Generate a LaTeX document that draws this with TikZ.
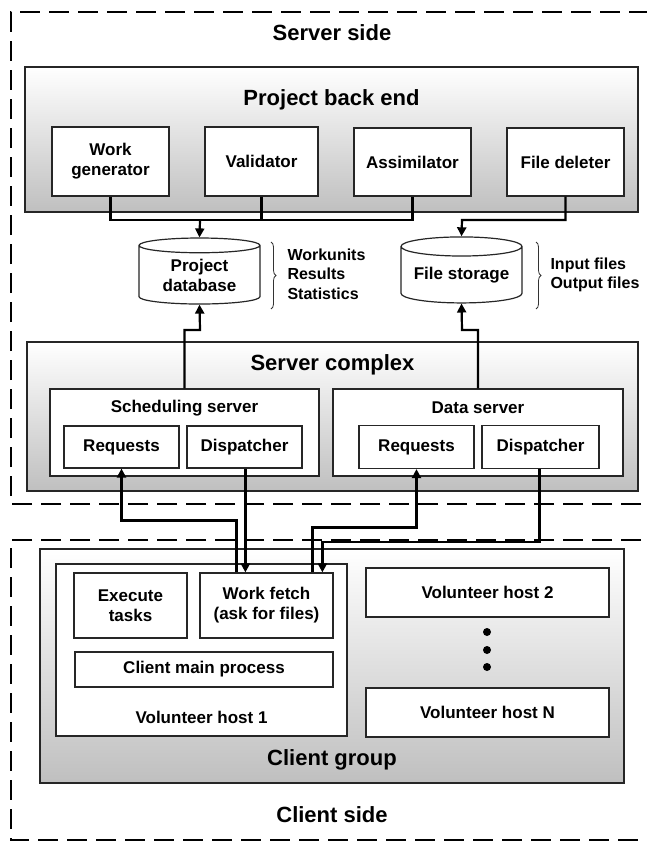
\documentclass[tikz,border=0pt]{standalone}
\usepackage{fontspec}
\setmainfont{Liberation Sans}
\usetikzlibrary{shapes.geometric,arrows.meta,decorations.pathreplacing,calc}
\begin{document}
\begin{tikzpicture}[x=1pt,y=-1pt,
  every node/.style={font=\bfseries},
  box/.style={draw=black!85, line width=1.2pt, fill=white, inner sep=0pt, align=center, font=\bfseries\fontsize{17}{20}\selectfont},
  group/.style={draw=black!85, line width=1.2pt, inner sep=0pt, top color=white, bottom color=black!25},
  title/.style={font=\bfseries\fontsize{22}{26}\selectfont},
  sub/.style={font=\bfseries\fontsize{17}{20}\selectfont},
  db/.style={draw=black!85, line width=1.2pt, fill=white, cylinder, shape border rotate=90, aspect=0.2, inner sep=0pt, align=center, font=\bfseries\fontsize{17}{20}\selectfont},
  conn/.style={line width=2.2pt},
  arr/.style={line width=2.2pt, -{Triangle[length=9pt,width=9pt]}},
  side/.style={dash pattern=on 20pt off 9pt, line width=1.6pt},
  brc/.style={decorate, decoration={brace, amplitude=5pt}, line width=0.8pt, black!80},
  note/.style={font=\bfseries\fontsize{16}{19.5}\selectfont, align=left, anchor=west}
]
\useasboundingbox (0,0) rectangle (646,842);
\fill[white] (0,0) rectangle (646,842);

% dashed regions
\draw[side] (670,504) -- (11,504) -- (11,12) -- (670,12);
\draw[side] (670,540) -- (11,540) -- (11,840) -- (670,840);
\node[title] (sst) at (332,33) {Server side};
\node[title] (cst) at (332,815) {Client side};

% project back end
\node[group, minimum width=613pt, minimum height=145pt] (pbe) at (331.5,139.5) {};
\node[title] (pbet) at (331.5,100) {Project back end};
\node[box, minimum width=117pt, minimum height=69pt] (wg) at (110.5,161.5) {Work\\generator};
\node[box, minimum width=113pt, minimum height=69pt] (val) at (261.5,161.5) {Validator};
\node[box, minimum width=117pt, minimum height=68pt] (asm) at (412.5,162) {Assimilator};
\node[box, minimum width=117pt, minimum height=68pt] (fd) at (565.5,162) {File deleter};

% storage
\node[db, minimum width=121pt, minimum height=66pt] (pdb) at (199.5,275) {Project\\database};
\node[db, minimum width=121pt, minimum height=66pt] (fs) at (461.5,275) {File storage};
\draw[brc] (271,242) -- (271,309);
\draw[brc] (536,242) -- (536,309);
\node[note] (pdbn) at (284,274) {Workunits\\Results\\Statistics};
\node[note] (fsn) at (547,275) {Input files\\Output files};

% server complex
\node[group, minimum width=611pt, minimum height=149pt] (sc) at (332.5,416.5) {};
\node[title] (sct) at (332.5,365) {Server complex};
\node[box, minimum width=269pt, minimum height=87pt] (ss) at (184.5,432.5) {};
\node[sub] (sst2) at (184.5,408) {Scheduling server};
\node[box, minimum width=115pt, minimum height=42pt] (sreq) at (121.5,447) {Requests};
\node[box, minimum width=115pt, minimum height=42pt] (sdisp) at (244.5,447) {Dispatcher};
\node[box, minimum width=290pt, minimum height=87pt] (ds) at (478,432.5) {};
\node[sub] (dst) at (478,408) {Data server};
\node[box, minimum width=115pt, minimum height=43pt] (dreq) at (416.5,447) {Requests};
\node[box, minimum width=117pt, minimum height=43pt] (ddisp) at (540.5,447) {Dispatcher};

% client group
\node[group, minimum width=584pt, minimum height=234pt] (cg) at (332,666) {};
\node[title] (cgt) at (332,760) {Client group};
\node[box, minimum width=291pt, minimum height=172pt] (vh1) at (201.5,650) {};
\node[sub] (vh1t) at (201.5,717) {Volunteer host 1};
\node[box, minimum width=113pt, minimum height=65pt] (ex) at (130.5,605.5) {Execute\\tasks};
\node[box, minimum width=133pt, minimum height=65pt] (wf) at (266.5,605.5) {Work fetch\\(ask for files)};
\node[box, minimum width=258pt, minimum height=35pt] (cmp) at (204,669.5) {Client main process};
\node[box, minimum width=243pt, minimum height=49pt] (vh2) at (487.5,592.5) {Volunteer host 2};
\node[box, minimum width=243pt, minimum height=49pt] (vhn) at (487.5,712.5) {Volunteer host N};
\fill (487,632) circle (4pt);
\fill (487,650) circle (4pt);
\fill (487,667) circle (4pt);

% back end -> storage
\coordinate (j1) at (200,220);
\coordinate (j2) at (462,220);
\draw[conn] (wg.south) -- (wg.south |- j1) -- (asm.south |- j1) -- (asm.south);
\draw[conn] (val.south) -- (val.south |- j1);
\draw[arr] (j1) -- (pdb.north);
\draw[arr] (fd.south) |- (j2) -- (fs.north);

% servers -> storage
\coordinate (j3) at (200,330);
\coordinate (j4) at (462,330);
\draw[arr] (ss.north) |- (j3) -- (pdb.south);
\draw[arr] (ds.north) |- (j4) -- (fs.south);

% client <-> servers
\draw[arr] ([xshift=37pt]wf.north west) -- ++(0,-52) -| (sreq.south);
\draw[arr] ([xshift=59pt]sdisp.south west) -- ([xshift=46pt]wf.north west);
\draw[arr] ([xshift=113pt]wf.north west) -- ++(0,-45) -| (dreq.south);
\draw[arr] ([xshift=58pt]ddisp.south west) -- ++(0,73) -| ([xshift=123pt]wf.north west);
\end{tikzpicture}
\end{document}
